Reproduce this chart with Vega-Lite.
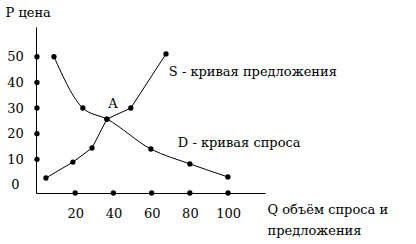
{
  "$schema": "https://vega.github.io/schema/vega-lite/v6.json",
  "width": 229,
  "height": 166,
  "autosize": {"type": "none"},
  "padding": {"left": 36, "top": 27, "right": 151, "bottom": 51},
  "background": "white",
  "config": {"view": {"stroke": null}, "font": "DejaVu Serif", "axis": {"labelOverlap": false, "labelFlush": false}},
  "datasets": {
    "curves": [
      {"curve": "D", "Q": 8.9, "P": 50.0},
      {"curve": "D", "Q": 24.0, "P": 30.0},
      {"curve": "D", "Q": 36.6, "P": 25.7},
      {"curve": "D", "Q": 59.6, "P": 14.0},
      {"curve": "D", "Q": 80.0, "P": 8.2},
      {"curve": "D", "Q": 99.9, "P": 3.1},
      {"curve": "S", "Q": 4.7, "P": 2.7},
      {"curve": "S", "Q": 18.8, "P": 8.9},
      {"curve": "S", "Q": 28.8, "P": 14.4},
      {"curve": "S", "Q": 36.6, "P": 25.7},
      {"curve": "S", "Q": 49.1, "P": 30.0},
      {"curve": "S", "Q": 67.5, "P": 51.1}
    ],
    "axisdots": [
      {"Q": 0, "P": 10}, {"Q": 0, "P": 20}, {"Q": 0, "P": 30}, {"Q": 0, "P": 40}, {"Q": 0, "P": 50},
      {"Q": 20, "P": -3.16}, {"Q": 40, "P": -3.16}, {"Q": 60, "P": -3.16}, {"Q": 80, "P": -3.16}, {"Q": 100, "P": -3.16}
    ],
    "pointlabel": [
      {"text": "A", "Q": 39.7, "P": 31.6}
    ],
    "curvelabels": [
      {"text": "S - кривая предложения", "Q": 69.0, "P": 43.9},
      {"text": "D - кривая спроса", "Q": 73.7, "P": 16.4}
    ]
  },
  "layer": [
    {
      "data": {"name": "curves"},
      "transform": [{"filter": "datum.curve === 'D'"}],
      "mark": {"type": "line", "color": "black", "strokeWidth": 1, "interpolate": "monotone"},
      "encoding": {
        "x": {
          "field": "Q", "type": "quantitative",
          "scale": {"domain": [-0.5, 119.3], "nice": false, "zero": false},
          "axis": {
            "values": [20, 40, 60, 80, 100], "tickCount": 20,
            "domainColor": "black", "domainWidth": 1,
            "ticks": false, "tickSize": 0, "grid": false, "labelOverlap": false,
            "labelFont": "DejaVu Serif", "labelFontSize": 13, "labelColor": "black",
            "labelPadding": 14, "labelBaseline": "top",
            "title": ["Q объём спроса и", "предложения"],
            "titleFont": "DejaVu Serif", "titleFontSize": 13, "titleFontWeight": "normal", "titleColor": "black",
            "titleAlign": "left", "titleAnchor": null, "titleAngle": 0,
            "titleX": 231, "titleY": 20, "titleBaseline": "alphabetic", "titleLineHeight": 21
          }
        },
        "y": {
          "field": "P", "type": "quantitative",
          "scale": {"domain": [-3.16, 61.61], "nice": false, "zero": false},
          "axis": {
            "values": [0, 10, 20, 30, 40, 50], "tickCount": 20,
            "domainColor": "black", "domainWidth": 1,
            "ticks": false, "tickSize": 0, "grid": false, "labelOverlap": false,
            "labelFont": "DejaVu Serif", "labelFontSize": 13, "labelColor": "black",
            "labelPadding": 21, "labelAlign": "center", "labelBaseline": "middle",
            "title": "P цена",
            "titleFont": "DejaVu Serif", "titleFontSize": 13, "titleFontWeight": "normal", "titleColor": "black",
            "titleAlign": "left", "titleAnchor": null, "titleAngle": 0,
            "titleX": -31, "titleY": -11, "titleBaseline": "alphabetic"
          }
        }
      }
    },
    {
      "data": {"name": "curves"},
      "transform": [{"filter": "datum.curve === 'S'"}],
      "mark": {"type": "line", "color": "black", "strokeWidth": 1, "interpolate": "linear"},
      "encoding": {
        "x": {"field": "Q", "type": "quantitative"},
        "y": {"field": "P", "type": "quantitative"}
      }
    },
    {
      "data": {"name": "curves"},
      "mark": {"type": "point", "filled": true, "color": "black", "size": 28, "opacity": 1},
      "encoding": {
        "x": {"field": "Q", "type": "quantitative"},
        "y": {"field": "P", "type": "quantitative"}
      }
    },
    {
      "data": {"name": "axisdots"},
      "mark": {"type": "point", "filled": true, "color": "black", "size": 28, "opacity": 1, "clip": false},
      "encoding": {
        "x": {"field": "Q", "type": "quantitative"},
        "y": {"field": "P", "type": "quantitative"}
      }
    },
    {
      "data": {"name": "pointlabel"},
      "mark": {"type": "text", "font": "DejaVu Serif", "fontSize": 13, "color": "black", "baseline": "middle", "align": "center"},
      "encoding": {
        "x": {"field": "Q", "type": "quantitative"},
        "y": {"field": "P", "type": "quantitative"},
        "text": {"field": "text"}
      }
    },
    {
      "data": {"name": "curvelabels"},
      "mark": {"type": "text", "font": "DejaVu Serif", "fontSize": 13, "color": "black", "baseline": "middle", "align": "left"},
      "encoding": {
        "x": {"field": "Q", "type": "quantitative"},
        "y": {"field": "P", "type": "quantitative"},
        "text": {"field": "text"}
      }
    }
  ]
}
